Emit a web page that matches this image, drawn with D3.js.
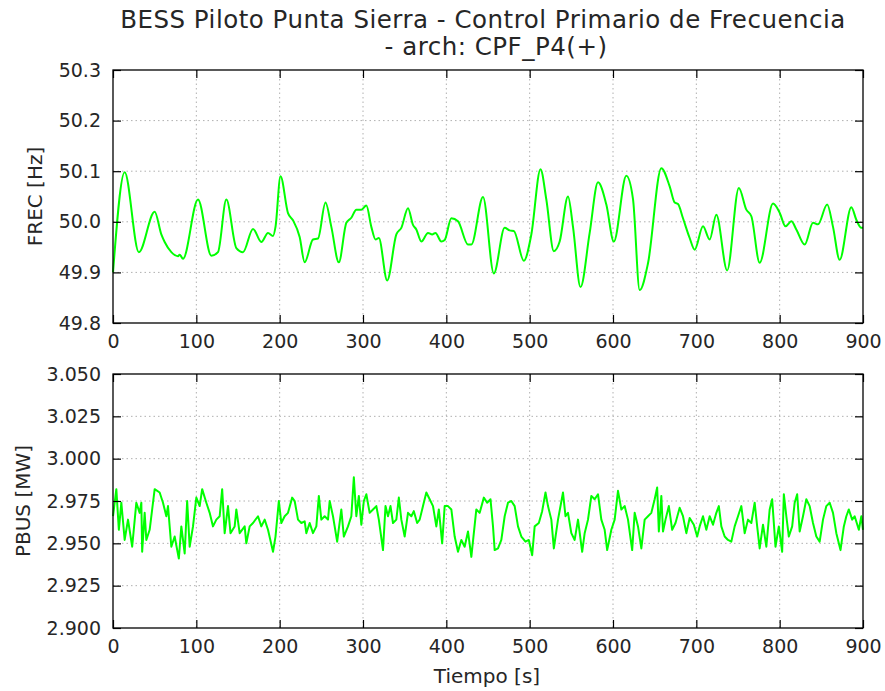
<!DOCTYPE html>
<html>
<head>
<meta charset="utf-8">
<script src="https://cdn.jsdelivr.net/npm/d3@7"></script>
<style>
  body { margin: 0; background: #fff; }
  text { font-family: "DejaVu Sans", sans-serif; fill: #262626; }
</style>
</head>
<body>
<script>
// frequency trace (s, Hz)
var frecTime = [0, 14, 31, 50, 58, 62, 70, 78, 80, 84,
  102, 118, 126, 136, 148, 156, 168, 178, 186, 192,
  195, 201, 210, 216, 224, 230, 240, 246, 255, 262,
  271, 280, 286, 292, 298, 304, 310, 315, 319, 329,
  340, 346, 354, 360, 364, 370, 378, 383, 387, 394,
  398, 406, 414, 426, 430, 444, 457, 470, 476, 481,
  493, 502, 513, 520, 529, 536, 546, 552, 561, 572,
  582, 592, 601, 616, 624, 632, 642, 658, 668, 674,
  678, 684, 692, 698, 708, 716, 724, 737, 751, 760,
  766, 776, 792, 800, 807, 814, 820, 830, 840, 846,
  857, 864, 872, 886, 892, 898, 900];
var frecHz = [49.900, 50.098, 49.940, 50.020, 49.975, 49.960, 49.940, 49.932, 49.935, 49.927,
  50.044, 49.933, 49.940, 50.044, 49.948, 49.940, 49.986, 49.960, 49.978, 49.972,
  49.990, 50.090, 50.017, 50.003, 49.970, 49.920, 49.965, 49.967, 50.038, 49.990,
  49.920, 49.998, 50.008, 50.024, 50.024, 50.032, 49.990, 49.965, 49.968, 49.884,
  49.975, 49.988, 50.027, 49.994, 49.985, 49.961, 49.978, 49.975, 49.978, 49.961,
  49.964, 50.007, 50.001, 49.955, 49.955, 50.049, 49.898, 49.988, 49.983, 49.982,
  49.923, 49.975, 50.104, 50.044, 49.942, 49.961, 50.050, 49.990, 49.871, 49.978,
  50.078, 50.034, 49.961, 50.091, 50.045, 49.865, 49.918, 50.106, 50.070, 50.038,
  50.035, 50.007, 49.968, 49.945, 49.991, 49.965, 50.014, 49.904, 50.067, 50.024,
  50.011, 49.919, 50.036, 50.018, 49.991, 50.001, 49.985, 49.955, 49.998, 49.995,
  50.034, 49.990, 49.925, 50.029, 50.004, 49.988, 49.988];

// power at the bus (s, MW)
var pbusTime = [0, 4, 7, 10, 14, 18, 23, 28, 32, 34,
  35, 38, 40, 44, 50, 56, 60, 64, 66, 70,
  74, 79, 82, 86, 89, 92, 96, 100, 104, 107,
  112, 116, 120, 124, 128, 131, 134, 138, 141, 146,
  148, 152, 158, 160, 164, 168, 174, 178, 182, 186,
  192, 195, 199, 202, 206, 210, 215, 218, 222, 226,
  230, 232, 236, 240, 244, 247, 250, 254, 258, 260,
  264, 269, 274, 277, 282, 286, 289, 292, 295, 298,
  301, 304, 308, 312, 316, 319, 324, 327, 330, 333,
  336, 340, 343, 346, 350, 354, 358, 361, 365, 368,
  372, 376, 380, 384, 388, 391, 395, 398, 402, 406,
  410, 414, 418, 422, 426, 430, 436, 440, 445, 449,
  453, 456, 458, 462, 466, 470, 474, 478, 482, 486,
  490, 495, 499, 503, 506, 511, 515, 519, 522, 526,
  529, 534, 540, 543, 546, 550, 554, 558, 563, 566,
  570, 574, 578, 582, 586, 590, 593, 598, 602, 606,
  610, 614, 618, 623, 626, 630, 634, 638, 642, 646,
  650, 653, 655, 658, 660, 663, 667, 671, 675, 680,
  684, 688, 692, 697, 701, 704, 708, 712, 716, 720,
  724, 727, 730, 734, 738, 742, 746, 750, 754, 758,
  762, 766, 770, 773, 776, 780, 784, 788, 791, 795,
  799, 803, 805, 808, 811, 815, 818, 821, 824, 828,
  832, 836, 840, 844, 848, 852, 856, 860, 864, 868,
  873, 877, 880, 883, 887, 890, 895, 898, 900];
var pbusMW = [2.966, 2.982, 2.958, 2.974, 2.952, 2.964, 2.948, 2.974, 2.968, 2.974,
  2.945, 2.968, 2.952, 2.958, 2.982, 2.980, 2.974, 2.966, 2.972, 2.948,
  2.954, 2.941, 2.960, 2.944, 2.975, 2.948, 2.960, 2.977, 2.972, 2.982,
  2.974, 2.968, 2.960, 2.964, 2.966, 2.982, 2.956, 2.972, 2.956, 2.960,
  2.970, 2.956, 2.960, 2.950, 2.960, 2.962, 2.966, 2.960, 2.964, 2.958,
  2.945, 2.954, 2.975, 2.962, 2.966, 2.968, 2.977, 2.975, 2.964, 2.962,
  2.963, 2.956, 2.962, 2.956, 2.960, 2.978, 2.964, 2.966, 2.964, 2.975,
  2.966, 2.951, 2.970, 2.954, 2.960, 2.966, 2.989, 2.966, 2.978, 2.961,
  2.975, 2.979, 2.968, 2.970, 2.972, 2.964, 2.946, 2.972, 2.966, 2.972,
  2.962, 2.964, 2.977, 2.964, 2.954, 2.968, 2.966, 2.969, 2.962, 2.964,
  2.972, 2.980, 2.976, 2.972, 2.960, 2.970, 2.950, 2.972, 2.972, 2.970,
  2.954, 2.945, 2.952, 2.948, 2.957, 2.942, 2.970, 2.968, 2.977, 2.974,
  2.976, 2.960, 2.946, 2.947, 2.952, 2.966, 2.974, 2.975, 2.972, 2.960,
  2.954, 2.951, 2.952, 2.943, 2.960, 2.962, 2.969, 2.980, 2.972, 2.964,
  2.947, 2.964, 2.980, 2.966, 2.968, 2.956, 2.952, 2.964, 2.945, 2.956,
  2.964, 2.978, 2.976, 2.979, 2.964, 2.958, 2.946, 2.958, 2.964, 2.981,
  2.970, 2.972, 2.964, 2.946, 2.968, 2.960, 2.947, 2.964, 2.966, 2.968,
  2.976, 2.983, 2.957, 2.978, 2.957, 2.964, 2.972, 2.958, 2.962, 2.971,
  2.966, 2.956, 2.965, 2.961, 2.954, 2.960, 2.966, 2.958, 2.966, 2.961,
  2.968, 2.972, 2.960, 2.954, 2.952, 2.951, 2.960, 2.966, 2.972, 2.956,
  2.964, 2.962, 2.974, 2.960, 2.947, 2.961, 2.948, 2.970, 2.976, 2.948,
  2.960, 2.945, 2.979, 2.966, 2.954, 2.960, 2.974, 2.979, 2.957, 2.966,
  2.976, 2.972, 2.962, 2.954, 2.951, 2.964, 2.972, 2.974, 2.968, 2.956,
  2.946, 2.960, 2.966, 2.970, 2.964, 2.966, 2.958, 2.966, 2.958];

var xTicks = [0, 100, 200, 300, 400, 500, 600, 700, 800, 900];
var frecTicks = [49.8, 49.9, 50.0, 50.1, 50.2, 50.3];
var pbusTicks = [2.900, 2.925, 2.950, 2.975, 3.000, 3.025, 3.050];

var titleLines = ["BESS Piloto Punta Sierra - Control Primario de Frecuencia", "- arch: CPF_P4(+)"];

var W = 885, H = 691;
var left = 113, right = 863;

var svg = d3.select("body").append("svg")
    .attr("width", W)
    .attr("height", H);

svg.append("text").attr("x", 483).attr("y", 28)
    .attr("text-anchor", "middle").style("font-size", "24.5px")
    .style("letter-spacing", "0.5px").text(titleLines[0]);
svg.append("text").attr("x", 496).attr("y", 55)
    .attr("text-anchor", "middle").style("font-size", "24.5px")
    .style("letter-spacing", "0.5px").text(titleLines[1]);

function panel(top, bottom, yDomain, yTicks, yFmt, times, vals, curve, label, labelX) {
  var x = d3.scaleLinear().domain([0, 900]).range([left, right]);
  var y = d3.scaleLinear().domain(yDomain).range([bottom, top]);
  var g = svg.append("g");

  // dotted grid
  g.selectAll(".gx").data(xTicks.slice(1, -1)).enter().append("line")
      .attr("x1", d => x(d)).attr("x2", d => x(d))
      .attr("y1", top).attr("y2", bottom)
      .attr("stroke", "#b0b0b0").attr("stroke-dasharray", "1.5,3");
  g.selectAll(".gy").data(yTicks.slice(1, -1)).enter().append("line")
      .attr("x1", left).attr("x2", right)
      .attr("y1", d => y(d)).attr("y2", d => y(d))
      .attr("stroke", "#b0b0b0").attr("stroke-dasharray", "1.5,3");

  // the trace
  var pts = times.map((t, i) => [t, vals[i]]);
  var line = d3.line().x(d => x(d[0])).y(d => y(d[1])).curve(curve);
  g.append("path").datum(pts)
      .attr("d", line)
      .attr("fill", "none")
      .attr("stroke", "#00ff00")
      .attr("stroke-width", 2)
      .attr("stroke-linejoin", "round");

  // axes, ticks inward on all four sides
  var tl = 8;
  var ax = [
    d3.axisBottom(x).tickValues(xTicks).tickSizeInner(-tl).tickSizeOuter(0).tickPadding(12),
    d3.axisTop(x).tickValues(xTicks).tickSizeInner(-tl).tickSizeOuter(0).tickFormat(""),
    d3.axisLeft(y).tickValues(yTicks).tickSizeInner(-tl).tickSizeOuter(0).tickPadding(12).tickFormat(yFmt),
    d3.axisRight(y).tickValues(yTicks).tickSizeInner(-tl).tickSizeOuter(0).tickFormat("")
  ];
  var pos = ["translate(0," + bottom + ")", "translate(0," + top + ")",
             "translate(" + left + ",0)", "translate(" + right + ",0)"];
  ax.forEach(function(a, i) {
    var ag = g.append("g").attr("transform", pos[i]).call(a);
    ag.select(".domain").remove();
    ag.selectAll(".tick line").attr("stroke", "#000").attr("stroke-width", 1.2);
    ag.selectAll(".tick text").style("font-size", "19px")
      .style("font-family", "DejaVu Sans, sans-serif").attr("fill", "#262626");
  });

  g.append("rect").attr("x", left).attr("y", top)
      .attr("width", right - left).attr("height", bottom - top)
      .attr("fill", "none").attr("stroke", "#000").attr("stroke-width", 1.3);

  svg.append("text")
      .attr("transform", "translate(" + labelX + "," + ((top + bottom) / 2) + ") rotate(-90)")
      .attr("text-anchor", "middle").style("font-size", "20px").text(label);
}

panel(70, 323, [49.8, 50.3], frecTicks, d3.format(".1f"), frecTime, frecHz,
      d3.curveMonotoneX, "FREC [Hz]", 42);
panel(374, 628, [2.9, 3.05], pbusTicks, d3.format(".3f"), pbusTime, pbusMW,
      d3.curveLinear, "PBUS [MW]", 30);

svg.append("text").attr("x", 487).attr("y", 683)
    .attr("text-anchor", "middle").style("font-size", "20px").text("Tiempo [s]");
</script>
</body>
</html>
